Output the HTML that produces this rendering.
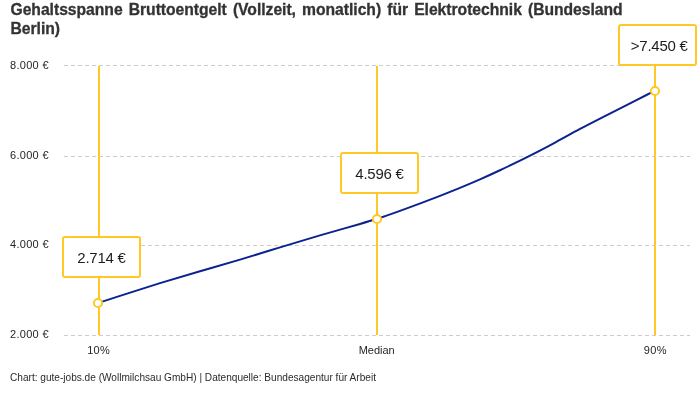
<!DOCTYPE html>
<html lang="de">
<head>
<meta charset="utf-8">
<title>Gehaltsspanne Bruttoentgelt – Elektrotechnik (Berlin)</title>
<style>
  html, body { margin: 0; padding: 0; background: #ffffff; }
  body {
    width: 700px; height: 400px; position: relative; overflow: hidden;
    font-family: "Liberation Sans", sans-serif; color: #333333;
  }
  h1.title {
    position: absolute; left: 10.5px; top: 0px; margin: 0; width: 660px;
    font-size: 15.7px; line-height: 19.2px; font-weight: 700; color: #333333;
    letter-spacing: -0.03px; word-spacing: 1.8px; white-space: nowrap;
    -webkit-text-stroke: 0.3px #333333;
  }
  svg.chart { position: absolute; left: 0; top: 0; }
  .ylab {
    position: absolute; left: 10px; font-size: 11px; line-height: 14px; height: 14px;
    color: #262626; letter-spacing: 0.3px; white-space: nowrap;
  }
  .xlab {
    position: absolute; top: 343px; width: 80px; text-align: center;
    font-size: 11px; line-height: 14px; color: #262626; white-space: nowrap;
  }
  .xlab.pct { letter-spacing: 0.35px; }
  .val {
    position: absolute; width: 75px; height: 37.8px; line-height: 40px;
    border: 2px solid #ffc824; border-radius: 3px; background: #ffffff;
    text-align: center; font-size: 15px; letter-spacing: -0.25px; color: #1d1d1d; white-space: nowrap;
  }
  .footer {
    position: absolute; left: 10px; top: 370.5px; font-size: 10.1px; line-height: 14px;
    color: #2b2b2b; white-space: nowrap;
  }
</style>
</head>
<body>
<h1 class="title">Gehaltsspanne Bruttoentgelt (Vollzeit, monatlich) für Elektrotechnik (Bundesland<br>Berlin)</h1>

<svg class="chart" width="700" height="400" viewBox="0 0 700 400">
  <!-- range marker lines -->
  <g fill="#ffc824" shape-rendering="crispEdges">
    <rect x="98" y="66" width="2" height="269"/>
    <rect x="376" y="66" width="2" height="269"/>
    <rect x="654" y="66" width="2" height="269"/>
  </g>
  <!-- horizontal grid -->
  <g stroke="#cccccc" stroke-width="1" stroke-dasharray="4,3" shape-rendering="crispEdges">
    <line x1="64" y1="65.5" x2="690" y2="65.5"/>
    <line x1="64" y1="156.5" x2="690" y2="156.5"/>
    <line x1="64" y1="245.5" x2="690" y2="245.5"/>
    <line x1="64" y1="335.5" x2="690" y2="335.5"/>
  </g>
  <!-- salary curve -->
  <path fill="none" stroke="#0b2291" stroke-width="2" stroke-linejoin="round" stroke-linecap="butt"
        d="M98.00,303.00C105.33,300.60 112.67,298.20 120.00,295.83C133.33,291.51 146.67,287.27 160.00,283.16C173.33,279.06 186.67,275.09 200.00,271.22C213.33,267.36 226.67,263.60 240.00,259.64C253.33,255.68 266.67,251.51 280.00,247.41C293.33,243.31 306.67,239.29 320.00,235.41C333.33,231.52 346.67,227.79 360.00,223.93C365.67,222.28 371.33,220.62 377.00,218.80C384.67,216.34 392.33,213.62 400.00,210.84C413.33,206.01 426.67,201.03 440.00,195.83C453.33,190.63 466.67,185.21 480.00,179.35C486.67,176.42 493.33,173.37 500.00,170.25C506.67,167.13 513.33,163.92 520.00,160.65C532.00,154.75 544.00,148.64 556.00,142.12C564.00,137.77 572.00,133.24 580.00,128.95C586.67,125.38 593.33,121.97 600.00,118.57C612.00,112.46 624.00,106.38 636.00,100.31C642.33,97.11 648.67,93.90 655.00,90.70"/>
  <!-- points -->
  <g fill="#ffffff" stroke="#ffc824" stroke-width="2">
    <circle cx="98" cy="303" r="4.1"/>
    <circle cx="377" cy="219" r="4.1"/>
    <circle cx="655" cy="91" r="4.1"/>
  </g>
</svg>

<div class="ylab" style="top:58px">8.000 €</div>
<div class="ylab" style="top:148px">6.000 €</div>
<div class="ylab" style="top:237.2px">4.000 €</div>
<div class="ylab" style="top:327px">2.000 €</div>

<div class="xlab pct" style="left:58.7px">10%</div>
<div class="xlab" style="left:336.7px">Median</div>
<div class="xlab pct" style="left:615.3px">90%</div>

<div class="val" style="left:62px;top:235.9px">2.714 €</div>
<div class="val" style="left:340px;top:151.9px">4.596 €</div>
<div class="val" style="left:618px;top:24px;width:71.6px;padding-left:3.4px">&gt;7.450 €</div>

<div class="footer">Chart: gute-jobs.de (Wollmilchsau GmbH) | Datenquelle: Bundesagentur für Arbeit</div>
</body>
</html>
